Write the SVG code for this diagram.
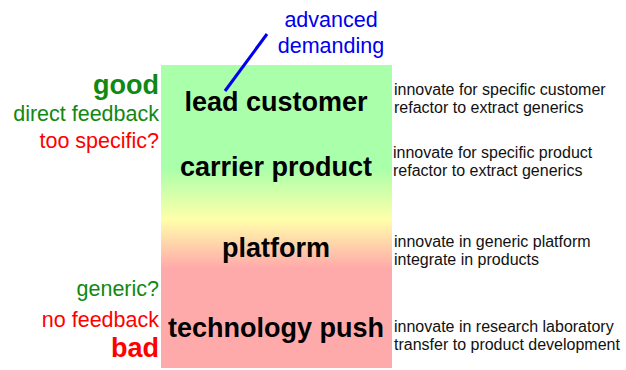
<svg xmlns="http://www.w3.org/2000/svg" width="626" height="370" viewBox="0 0 626 370">
<defs>
<linearGradient id="bg" x1="0" y1="0" x2="0" y2="1">
<stop offset="0" stop-color="#aaffaa"/>
<stop offset="0.34" stop-color="#aaffaa"/>
<stop offset="0.51" stop-color="#ffffaa"/>
<stop offset="0.67" stop-color="#ffaaaa"/>
<stop offset="1" stop-color="#ffaaaa"/>
</linearGradient>
<style>
text{font-family:"Liberation Sans",Arial,sans-serif}
.main{font-size:27px;font-weight:bold;fill:#000;text-anchor:middle}
.side{font-size:21.5px;text-anchor:end}
.big{font-size:27px;font-weight:bold;text-anchor:end}
.desc{font-size:16px;fill:#111}
.g{fill:#118811}
.r{fill:#ff0000}
.b{fill:#0000ee;font-size:21.5px;text-anchor:middle}
</style>
</defs>
<rect id="background" x="161" y="65" width="231" height="303" fill="url(#bg)"/>
<g id="connectors">
<line x1="225" y1="91" x2="267" y2="34" stroke="#0000ee" stroke-width="3"/>
</g>
<g id="annotation">
<text class="b" x="331" y="27">advanced</text>
<text class="b" x="331" y="53">demanding</text>
</g>
<g id="lead-customer">
<text class="main" x="276" y="111">lead customer</text>
<text class="desc" x="394" y="95">innovate for specific customer</text>
<text class="desc" x="394" y="113">refactor to extract generics</text>
</g>
<g id="carrier-product">
<text class="main" x="276" y="176">carrier product</text>
<text class="desc" x="393" y="158">innovate for specific product</text>
<text class="desc" x="393" y="176">refactor to extract generics</text>
</g>
<g id="platform">
<text class="main" x="276" y="257">platform</text>
<text class="desc" x="394" y="247">innovate in generic platform</text>
<text class="desc" x="394" y="265">integrate in products</text>
</g>
<g id="technology-push">
<text class="main" x="276" y="337">technology push</text>
<text class="desc" x="394" y="332">innovate in research laboratory</text>
<text class="desc" x="394" y="350">transfer to product development</text>
</g>
<g id="left-labels">
<text class="big g" x="159" y="94">good</text>
<text class="side g" x="159" y="121">direct feedback</text>
<text class="side r" x="159" y="148">too specific?</text>
<text class="side g" x="159" y="296">generic?</text>
<text class="side r" x="159" y="327">no feedback</text>
<text class="big r" x="159" y="357">bad</text>
</g>
</svg>
